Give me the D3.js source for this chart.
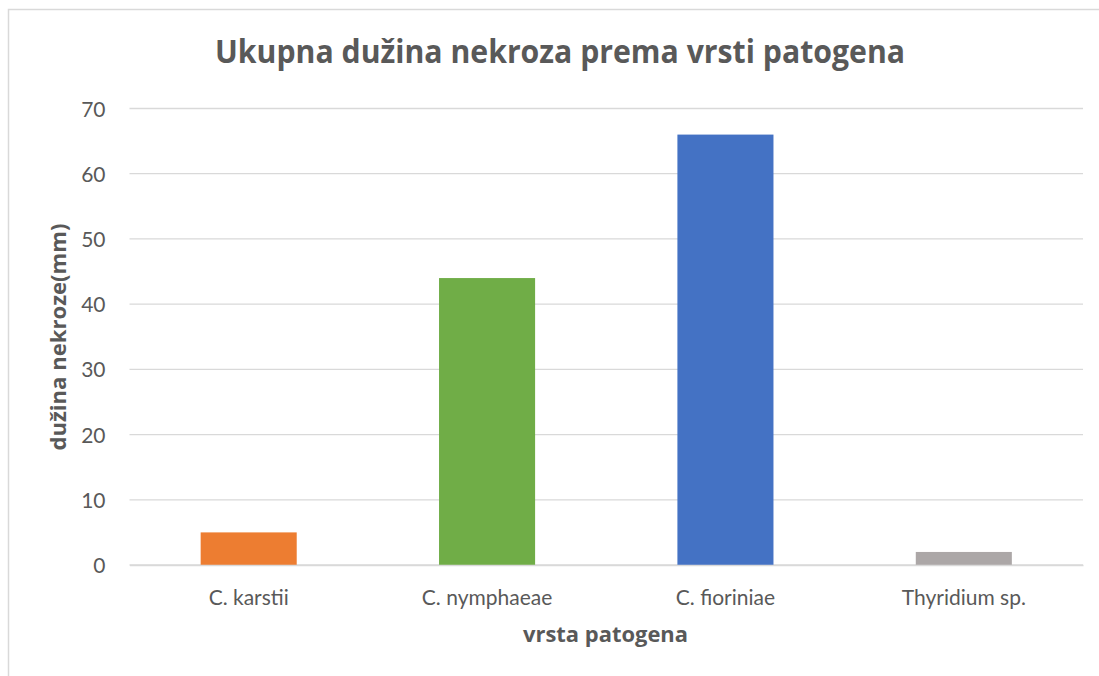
<!DOCTYPE html>
<html>
<head>
<meta charset="utf-8">
<script src="https://cdn.jsdelivr.net/npm/d3@7"></script>
<style>
  body { margin: 0; background: #fff; }
  text { font-family: Lato, "Open Sans", sans-serif; fill: #595959; }
</style>
</head>
<body>
<div id="chart"></div>
<script>
// podaci grafikona
const categories = ["C. karstii", "C. nymphaeae", "C. fioriniae", "Thyridium sp."];
const values = [5, 44, 66, 2];
const barColors = ["#ED7D31", "#70AD47", "#4472C4", "#ACA7A7"];
const yTicks = [0, 10, 20, 30, 40, 50, 60, 70];

const W = 1099, H = 676;
const plot = {left: 129.5, right: 1083, top: 108.5, bottom: 565};

const svg = d3.select("#chart")
    .append("svg")
    .attr("width", W)
    .attr("height", H);

// okvir grafikona
svg.append("rect")
    .attr("x", 8.5).attr("y", 9.5)
    .attr("width", W + 20).attr("height", H + 20)
    .attr("fill", "#fff")
    .attr("stroke", "#d9d9d9")
    .attr("stroke-width", 1.5);

const x = d3.scaleBand()
    .domain(categories)
    .range([plot.left, plot.right])
    .paddingInner(0.597)
    .paddingOuter(0.2985);

const y = d3.scaleLinear()
    .domain([0, 70])
    .range([plot.bottom, plot.top]);

// mreža
svg.append("g")
    .selectAll("line")
    .data(yTicks)
    .join("line")
    .attr("x1", plot.left).attr("x2", plot.right)
    .attr("y1", d => y(d)).attr("y2", d => y(d))
    .attr("stroke", "#d9d9d9")
    .attr("stroke-width", 1.3);

// stupci
svg.append("g")
    .selectAll("rect")
    .data(values)
    .join("rect")
    .attr("x", (d, i) => x(categories[i]))
    .attr("width", x.bandwidth())
    .attr("y", d => y(d))
    .attr("height", d => y(0) - y(d))
    .attr("fill", (d, i) => barColors[i]);

// os Y
const yAxis = svg.append("g")
    .attr("transform", `translate(${plot.left - 24},0)`)
    .call(d3.axisLeft(y).tickValues(yTicks).tickSize(0).tickPadding(0));
yAxis.select(".domain").remove();
yAxis.selectAll("text")
    .attr("dy", "0.36em")
    .style("font-size", "21px")
    .style("font-family", "Lato, sans-serif")
    .attr("fill", "#595959");

// os X
const xAxis = svg.append("g")
    .attr("transform", `translate(0,${plot.bottom})`)
    .call(d3.axisBottom(x).tickSize(0).tickPadding(0));
xAxis.select(".domain")
    .attr("stroke", "#d9d9d9")
    .attr("stroke-width", 1.3);
xAxis.selectAll("text")
    .attr("y", 40)
    .attr("dy", 0)
    .style("font-size", "21px")
    .style("font-family", "Lato, sans-serif")
    .attr("fill", "#595959");

// naslov
svg.append("text")
    .attr("x", 560).attr("y", 63)
    .attr("text-anchor", "middle")
    .attr("textLength", 690)
    .attr("lengthAdjust", "spacingAndGlyphs")
    .style("font-size", "32px")
    .style("font-weight", "bold")
    .style("font-family", "'Open Sans', sans-serif")
    .text("Ukupna dužina nekroza prema vrsti patogena");

// naziv osi X
svg.append("text")
    .attr("x", 605.5).attr("y", 642)
    .attr("text-anchor", "middle")
    .attr("textLength", 165)
    .attr("lengthAdjust", "spacingAndGlyphs")
    .style("font-size", "21px")
    .style("font-weight", "bold")
    .style("font-family", "'Open Sans', sans-serif")
    .text("vrsta patogena");

// naziv osi Y
svg.append("text")
    .attr("transform", "translate(66,337) rotate(-90)")
    .attr("text-anchor", "middle")
    .attr("textLength", 227)
    .attr("lengthAdjust", "spacingAndGlyphs")
    .style("font-size", "21px")
    .style("font-weight", "bold")
    .style("font-family", "'Open Sans', sans-serif")
    .text("dužina nekroze(mm)");
</script>
</body>
</html>
